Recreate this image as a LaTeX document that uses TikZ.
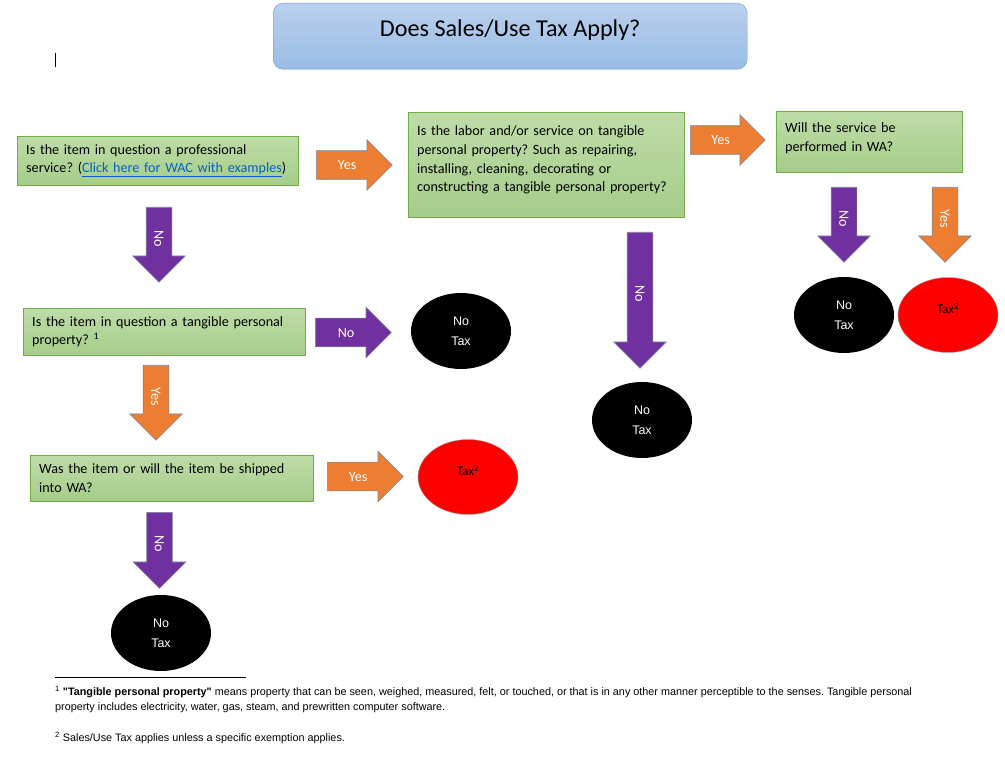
\documentclass[tikz,border=0pt]{standalone}
\usepackage{fontspec}
\setmainfont{Carlito}
\newfontfamily\arialfont{Liberation Sans}
\usetikzlibrary{shapes.arrows,shapes.geometric}
\definecolor{tipor}{RGB}{237,125,49}
\definecolor{tippu}{RGB}{112,48,160}
\definecolor{arrline}{RGB}{125,135,160}
\definecolor{grtop}{RGB}{190,220,168}
\definecolor{grbot}{RGB}{165,205,137}
\definecolor{grline}{RGB}{112,173,71}
\definecolor{bltop}{RGB}{186,208,237}
\definecolor{blbot}{RGB}{153,188,229}
\definecolor{blline}{RGB}{112,152,206}
\definecolor{linkblue}{RGB}{5,99,193}
\hyphenpenalty=10000
\frenchspacing
\begin{document}
\begin{tikzpicture}[x=1pt, y=-1pt,
  qbox/.style={draw=grline, top color=grtop, bottom color=grbot, anchor=north west, align=left,
    inner xsep=9pt, font=\fontsize{14.15}{18.7}\selectfont},
  harrow/.style={single arrow, draw=arrline, line width=0.6pt, text=white, anchor=tail,
    single arrow head extend=11pt, inner ysep=9.25pt, inner xsep=2pt, text height=9.5pt, text depth=0pt,
    minimum height=76pt, font=\fontsize{14.15}{18}\selectfont},
  varrow/.style={harrow, rotate=-90, single arrow head extend=13.5pt, inner ysep=7.75pt, minimum height=75pt},
  yesfill/.style={fill=tipor},
  nofill/.style={fill=tippu},
  notax/.style={ellipse, fill=black, text=white, minimum width=100pt, minimum height=76pt, align=center,
    font=\arialfont\fontsize{12.5}{20}\selectfont},
  taxoval/.style={ellipse, fill=red, draw=gray!75, text=black, minimum width=100pt, minimum height=75pt,
    text height=9.5pt, text depth=12pt, font=\fontsize{13.2}{15}\selectfont}]
\fill[white] (0,0) rectangle (1005,759);
\useasboundingbox (0,0) rectangle (1005,759);
% title
\draw (273,3) node[draw=blline, top color=bltop, bottom color=blbot, rounded corners=10pt, anchor=north west,
  minimum width=474pt, minimum height=66pt, text height=16pt, text depth=14.5pt,
  font=\fontsize{24.2}{27}\selectfont] (title) {Does Sales/Use Tax Apply?};
\draw[line width=0.8pt] (55,53) -- (55,67);
% questions
\draw (17,136) node[qbox, minimum width=281pt, minimum height=49pt, text width=263pt] (qpro)
  {Is the item in question a professional\\ service? (\textcolor{linkblue}{\underline{Click here for WAC with examples}})};
\draw (408,112) node[qbox, minimum width=276pt, minimum height=105pt, text width=258pt, text depth=68pt] (qlabor)
  {Is the labor and/or service on tangible\\ personal property? Such as repairing,\\ installing, cleaning, decorating or\\ constructing a tangible personal property?};
\draw (776,111) node[qbox, minimum width=186pt, minimum height=61pt, text width=168pt, text depth=28pt] (qwa)
  {Will the service be\\ performed in WA?};
\draw (23,308) node[qbox, minimum width=282pt, minimum height=47pt, text width=264pt] (qtpp)
  {Is the item in question a tangible personal\\ property? \textsuperscript{1}};
\draw (30,455) node[qbox, minimum width=283pt, minimum height=46pt, text width=265pt] (qship)
  {Was the item or will the item be shipped\\ into WA?};
% block arrows
\draw (316,165) node[harrow, yesfill] (ypro) {Yes};
\draw (690,140) node[harrow, yesfill, minimum height=75pt] (ylabor) {Yes};
\draw (315,332.5) node[harrow, nofill] (ntpp) {No};
\draw (327,476.5) node[harrow, yesfill] (yship) {Yes};
\draw (159,207) node[varrow, nofill] (npro) {No};
\draw (156,365) node[varrow, yesfill] (ytpp) {Yes};
\draw (159.5,512) node[varrow, nofill, minimum height=76pt] (nship) {No};
\draw (640,232) node[varrow, nofill, minimum height=136pt] (nlabor) {No};
\draw (844,187) node[varrow, nofill] (nwa) {No};
\draw (945,187) node[varrow, yesfill] (ywa) {Yes};
% outcomes
\draw (844,315) node[notax] (notaxwa) {No\\Tax};
\draw (948,315) node[taxoval] (taxwa) {Tax\textsuperscript{2}};
\draw (642,420) node[notax] (notaxlabor) {No\\Tax};
\draw (461,331) node[notax] (notaxtpp) {No\\Tax};
\draw (468,477) node[taxoval] (taxship) {Tax\textsuperscript{2}};
\draw (161,633) node[notax] (notaxship) {No\\Tax};
% footnotes
\draw[line width=0.8pt] (55,677) -- (246,677);
\draw (55,686) node[anchor=north west, inner sep=0pt, align=left, font=\arialfont\fontsize{10.82}{15}\selectfont] (fnone)
  {\textsuperscript{1} \textbf{"Tangible personal property"} means property that can be seen, weighed, measured, felt, or touched, or that is in any other manner perceptible to the senses. Tangible personal\\ property includes electricity, water, gas, steam, and prewritten computer software.};
\draw (55,732) node[anchor=north west, inner sep=0pt, align=left, font=\arialfont\fontsize{10.82}{15}\selectfont] (fntwo)
  {\textsuperscript{2} Sales/Use Tax applies unless a specific exemption applies.};
\end{tikzpicture}
\end{document}
